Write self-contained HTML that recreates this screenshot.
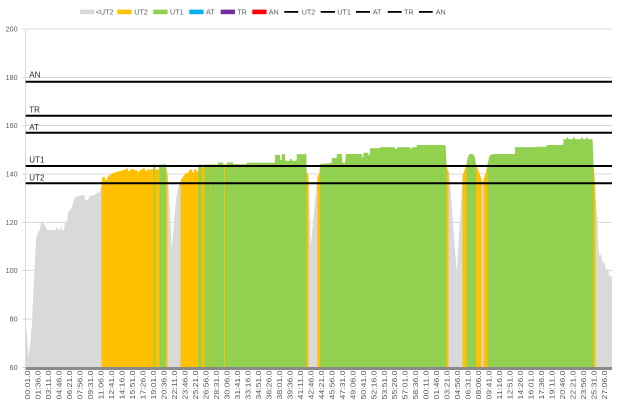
<!DOCTYPE html>
<html>
<head>
<meta charset="utf-8">
<style>
html,body{margin:0;padding:0;background:#fff;}
svg{display:block;font-family:"Liberation Sans",Arial,sans-serif;}
</style>
</head>
<body>
<svg width="620" height="403" viewBox="0 0 620 403" xmlns="http://www.w3.org/2000/svg">
<rect x="0" y="0" width="620" height="403" fill="#fff"/>
<defs>
<clipPath id="area">
<path d="M25.7,367.3 L25.7,326 27,335 28.5,357 30,345 31.7,327 33,300 34.3,273 35.5,250 36.3,237 38,232 40,230 41,222 42.3,220 43.5,224 45,225 47,230 55,230 57,227 58.5,230 60,230 61,225 62,230 64,230 65,223 67,222 68,213 70,210 72,207 74,200 75.5,197 78,196 84,195 85.5,200 88,200 89.5,196 95,195 97,193 100,192 101.4,186 102,178 103.5,177 105,177 105.5,180 107,180 107.5,177 110,175 113,173 117,172 120,171 125,170 126,168.5 127.5,168.5 128,171 130,171 130.5,169 133,169 134,170 137,170 137.5,172 139,172 139.5,170 142,170 142.5,168.5 145,168.5 145.5,171 147,171 147.5,169.5 153.2,169.5 153.3,164.5 155,164.5 155.1,169.5 159.2,169.5 159.3,164.5 166,164.5 166.2,168 167.7,176 169.5,200 171.7,250 173,235 174.5,215 176,200 178,187 180.7,182 181,180 183,177 186,173 188,173 190,169.5 192.3,169.5 192.5,172.5 194,172.5 194.2,169.5 196.5,169.5 196.7,171.5 198.2,171.5 198.3,164.5 201.7,164.5 201.8,167.3 204.2,167.3 204.3,164.5 218,164.5 218.1,162.5 223,162.5 223.1,164.5 227,164.5 227.1,162.5 233,162.5 233.1,164.3 246.7,164.3 246.8,162.7 275,162.7 275.1,155 280,155 280.1,160 281.7,160 281.8,154.3 285,154.3 285.1,160.7 290,160.7 290.1,159.3 292,159.3 292.1,160.7 296.7,160.7 296.8,154.3 306.3,154.3 306.7,172 308.7,176 310.7,247 317.3,178 318,176 319.5,172 320,164 331.7,163 331.8,158 336.7,158 336.8,154 341.7,154 342.7,163 345,163 346,154 361.7,154 362,157 363.3,157 363.4,152.7 368.3,152.7 368.4,155 370,155 370.1,148.3 380,148.3 380.1,147.3 395,147.3 395.5,149 397,149 397.5,147.3 410,147.3 410.5,149 411.5,149 412,147.3 416.7,147.3 416.8,145 445.5,145 446.5,165 448.3,172 449,170 456.7,271.7 462.7,175 464,172 466.7,163 468,157 469.3,154.3 473.3,154.3 475,158 476,165 479,172 481.7,180 482.5,182 483.3,180 486,172 487.7,164 489,158 490,155 494,154 515,154 515.1,147.3 536.7,147.3 536.8,146.7 546.7,146.7 546.8,145 563.3,145 563.4,139.3 566.5,139.3 567,137.3 568,137.3 568.5,139.3 573,139.3 573.5,137.3 574.5,137.3 575,139.3 581,139.3 581.5,137.3 582.5,137.3 583,139.3 586,139.3 586.5,137.3 587.5,137.3 588,139.3 592.5,139.3 593.5,165 595,183 595.5,196.7 596.7,213 597.5,220 598.3,245 599,253 600,256.7 601,252 602,260 603.3,263.3 604.5,262 605.5,268 606.7,270 608,268 609,275 610,276.7 611,275 612,278.3 612,367.3 Z"/>
</clipPath>
</defs>

<g stroke="#d9d9d9" stroke-width="1" shape-rendering="crispEdges">
<line x1="22" y1="29" x2="612" y2="29"/>
<line x1="22" y1="77.3" x2="612" y2="77.3"/>
<line x1="22" y1="125.6" x2="612" y2="125.6"/>
<line x1="22" y1="174" x2="612" y2="174"/>
<line x1="22" y1="222.3" x2="612" y2="222.3"/>
<line x1="22" y1="270.6" x2="612" y2="270.6"/>
<line x1="22" y1="319" x2="612" y2="319"/>
<line x1="22" y1="367.3" x2="612" y2="367.3"/>
<line x1="25.7" y1="29" x2="25.7" y2="367.3"/>
</g>

<g clip-path="url(#area)" shape-rendering="crispEdges">
<rect x="25" y="120" width="590" height="250" fill="#d9d9d9"/>
<rect x="101.7" y="120" width="51.6" height="250" fill="#ffc000"/>
<rect x="153.3" y="120" width="1.7" height="250" fill="#92d050"/>
<rect x="155" y="120" width="4.3" height="250" fill="#ffc000"/>
<rect x="159.3" y="120" width="6.7" height="250" fill="#92d050"/>
<rect x="166" y="120" width="1.7" height="250" fill="#ffc000"/>
<rect x="180.7" y="120" width="17.6" height="250" fill="#ffc000"/>
<rect x="198.3" y="120" width="3.4" height="250" fill="#92d050"/>
<rect x="201.7" y="120" width="2.6" height="250" fill="#ffc000"/>
<rect x="204.3" y="120" width="102.4" height="250" fill="#92d050"/>
<rect x="306.7" y="120" width="2" height="250" fill="#ffc000"/>
<rect x="317.3" y="120" width="2.7" height="250" fill="#ffc000"/>
<rect x="320" y="120" width="126.5" height="250" fill="#92d050"/>
<rect x="446.5" y="120" width="2" height="250" fill="#ffc000"/>
<rect x="462.7" y="120" width="4" height="250" fill="#ffc000"/>
<rect x="466.7" y="120" width="9.3" height="250" fill="#92d050"/>
<rect x="476" y="120" width="5.7" height="250" fill="#ffc000"/>
<rect x="483.3" y="120" width="4.4" height="250" fill="#ffc000"/>
<rect x="487.7" y="120" width="105.8" height="250" fill="#92d050"/>
<rect x="593.5" y="120" width="1.8" height="250" fill="#ffc000"/>
<rect x="209.8" y="120" width="0.8" height="250" fill="#ffc000"/>
<rect x="224" y="120" width="0.8" height="250" fill="#ffc000"/>
</g>

<rect x="25.5" y="367" width="586.5" height="3" fill="#8a8a8a"/>

<g stroke="#000" stroke-width="2">
<line x1="25.7" y1="81.7" x2="612" y2="81.7"/>
<line x1="25.7" y1="115.7" x2="612" y2="115.7"/>
<line x1="25.7" y1="132.7" x2="612" y2="132.7"/>
<line x1="25.7" y1="166" x2="612" y2="166"/>
<line x1="25.7" y1="183.3" x2="612" y2="183.3"/>
</g>
<g font-size="8" fill="#262626">
<text x="29.3" y="77.3">AN</text>
<text x="29.3" y="112.7">TR</text>
<text x="29.3" y="130">AT</text>
<text x="29.3" y="162.7">UT1</text>
<text x="29.3" y="180.5">UT2</text>
</g>

<g font-size="7.2" fill="#595959" text-anchor="end">
<text x="17.6" y="31.6">200</text>
<text x="17.6" y="79.9">180</text>
<text x="17.6" y="128.2">160</text>
<text x="17.6" y="176.6">140</text>
<text x="17.6" y="224.9">120</text>
<text x="17.6" y="273.2">100</text>
<text x="17.6" y="321.6">80</text>
<text x="17.6" y="369.9">60</text>
</g>

<g>
<rect x="80" y="9.6" width="14.3" height="4.6" fill="#d9d9d9"/>
<rect x="117.3" y="9.6" width="14.3" height="4.6" fill="#ffc000"/>
<rect x="153.3" y="9.6" width="14.3" height="4.6" fill="#92d050"/>
<rect x="189.3" y="9.6" width="14.3" height="4.6" fill="#00b0f0"/>
<rect x="220.7" y="9.6" width="14.3" height="4.6" fill="#7030a0"/>
<rect x="252.3" y="9.6" width="14.3" height="4.6" fill="#ff0000"/>
<g stroke="#000" stroke-width="1.8">
<line x1="284.3" y1="11.9" x2="298.3" y2="11.9"/>
<line x1="320.7" y1="11.9" x2="335" y2="11.9"/>
<line x1="356" y1="11.9" x2="370" y2="11.9"/>
<line x1="387.7" y1="11.9" x2="401.7" y2="11.9"/>
<line x1="419" y1="11.9" x2="432.7" y2="11.9"/>
</g>
<g font-size="7.2" fill="#595959">
<text x="95.7" y="14.4">&lt;UT2</text>
<text x="134.3" y="14.4">UT2</text>
<text x="170" y="14.4">UT1</text>
<text x="206" y="14.4">AT</text>
<text x="237.3" y="14.4">TR</text>
<text x="268.7" y="14.4">AN</text>
<text x="301.7" y="14.4">UT2</text>
<text x="337.3" y="14.4">UT1</text>
<text x="372.7" y="14.4">AT</text>
<text x="404" y="14.4">TR</text>
<text x="435.7" y="14.4">AN</text>
</g>
</g>

<g font-size="7.3" fill="#595959" text-anchor="end" transform="translate(2.6,0)">
<text transform="translate(27.5,370.5) rotate(-90)" textLength="29" lengthAdjust="spacingAndGlyphs">00:01.0</text>
<text transform="translate(38.0,370.5) rotate(-90)" textLength="29" lengthAdjust="spacingAndGlyphs">01:36.0</text>
<text transform="translate(48.5,370.5) rotate(-90)" textLength="29" lengthAdjust="spacingAndGlyphs">03:11.0</text>
<text transform="translate(59.0,370.5) rotate(-90)" textLength="29" lengthAdjust="spacingAndGlyphs">04:46.0</text>
<text transform="translate(69.5,370.5) rotate(-90)" textLength="29" lengthAdjust="spacingAndGlyphs">06:21.0</text>
<text transform="translate(80.0,370.5) rotate(-90)" textLength="29" lengthAdjust="spacingAndGlyphs">07:56.0</text>
<text transform="translate(90.4,370.5) rotate(-90)" textLength="29" lengthAdjust="spacingAndGlyphs">09:31.0</text>
<text transform="translate(100.9,370.5) rotate(-90)" textLength="29" lengthAdjust="spacingAndGlyphs">11:06.0</text>
<text transform="translate(111.4,370.5) rotate(-90)" textLength="29" lengthAdjust="spacingAndGlyphs">12:41.0</text>
<text transform="translate(121.9,370.5) rotate(-90)" textLength="29" lengthAdjust="spacingAndGlyphs">14:16.0</text>
<text transform="translate(132.4,370.5) rotate(-90)" textLength="29" lengthAdjust="spacingAndGlyphs">15:51.0</text>
<text transform="translate(142.9,370.5) rotate(-90)" textLength="29" lengthAdjust="spacingAndGlyphs">17:26.0</text>
<text transform="translate(153.4,370.5) rotate(-90)" textLength="29" lengthAdjust="spacingAndGlyphs">19:01.0</text>
<text transform="translate(163.9,370.5) rotate(-90)" textLength="29" lengthAdjust="spacingAndGlyphs">20:36.0</text>
<text transform="translate(174.4,370.5) rotate(-90)" textLength="29" lengthAdjust="spacingAndGlyphs">22:11.0</text>
<text transform="translate(184.9,370.5) rotate(-90)" textLength="29" lengthAdjust="spacingAndGlyphs">23:46.0</text>
<text transform="translate(195.3,370.5) rotate(-90)" textLength="29" lengthAdjust="spacingAndGlyphs">25:21.0</text>
<text transform="translate(205.8,370.5) rotate(-90)" textLength="29" lengthAdjust="spacingAndGlyphs">26:56.0</text>
<text transform="translate(216.3,370.5) rotate(-90)" textLength="29" lengthAdjust="spacingAndGlyphs">28:31.0</text>
<text transform="translate(226.8,370.5) rotate(-90)" textLength="29" lengthAdjust="spacingAndGlyphs">30:06.0</text>
<text transform="translate(237.3,370.5) rotate(-90)" textLength="29" lengthAdjust="spacingAndGlyphs">31:41.0</text>
<text transform="translate(247.8,370.5) rotate(-90)" textLength="29" lengthAdjust="spacingAndGlyphs">33:16.0</text>
<text transform="translate(258.3,370.5) rotate(-90)" textLength="29" lengthAdjust="spacingAndGlyphs">34:51.0</text>
<text transform="translate(268.8,370.5) rotate(-90)" textLength="29" lengthAdjust="spacingAndGlyphs">36:26.0</text>
<text transform="translate(279.3,370.5) rotate(-90)" textLength="29" lengthAdjust="spacingAndGlyphs">38:01.0</text>
<text transform="translate(289.8,370.5) rotate(-90)" textLength="29" lengthAdjust="spacingAndGlyphs">39:36.0</text>
<text transform="translate(300.2,370.5) rotate(-90)" textLength="29" lengthAdjust="spacingAndGlyphs">41:11.0</text>
<text transform="translate(310.7,370.5) rotate(-90)" textLength="29" lengthAdjust="spacingAndGlyphs">42:46.0</text>
<text transform="translate(321.2,370.5) rotate(-90)" textLength="29" lengthAdjust="spacingAndGlyphs">44:21.0</text>
<text transform="translate(331.7,370.5) rotate(-90)" textLength="29" lengthAdjust="spacingAndGlyphs">45:56.0</text>
<text transform="translate(342.2,370.5) rotate(-90)" textLength="29" lengthAdjust="spacingAndGlyphs">47:31.0</text>
<text transform="translate(352.7,370.5) rotate(-90)" textLength="29" lengthAdjust="spacingAndGlyphs">49:06.0</text>
<text transform="translate(363.2,370.5) rotate(-90)" textLength="29" lengthAdjust="spacingAndGlyphs">50:41.0</text>
<text transform="translate(373.7,370.5) rotate(-90)" textLength="29" lengthAdjust="spacingAndGlyphs">52:16.0</text>
<text transform="translate(384.2,370.5) rotate(-90)" textLength="29" lengthAdjust="spacingAndGlyphs">53:51.0</text>
<text transform="translate(394.6,370.5) rotate(-90)" textLength="29" lengthAdjust="spacingAndGlyphs">55:26.0</text>
<text transform="translate(405.1,370.5) rotate(-90)" textLength="29" lengthAdjust="spacingAndGlyphs">57:01.0</text>
<text transform="translate(415.6,370.5) rotate(-90)" textLength="29" lengthAdjust="spacingAndGlyphs">58:36.0</text>
<text transform="translate(426.1,370.5) rotate(-90)" textLength="29" lengthAdjust="spacingAndGlyphs">00:11.0</text>
<text transform="translate(436.6,370.5) rotate(-90)" textLength="29" lengthAdjust="spacingAndGlyphs">01:46.0</text>
<text transform="translate(447.1,370.5) rotate(-90)" textLength="29" lengthAdjust="spacingAndGlyphs">03:21.0</text>
<text transform="translate(457.6,370.5) rotate(-90)" textLength="29" lengthAdjust="spacingAndGlyphs">04:56.0</text>
<text transform="translate(468.1,370.5) rotate(-90)" textLength="29" lengthAdjust="spacingAndGlyphs">06:31.0</text>
<text transform="translate(478.6,370.5) rotate(-90)" textLength="29" lengthAdjust="spacingAndGlyphs">08:06.0</text>
<text transform="translate(489.1,370.5) rotate(-90)" textLength="29" lengthAdjust="spacingAndGlyphs">09:41.0</text>
<text transform="translate(499.6,370.5) rotate(-90)" textLength="29" lengthAdjust="spacingAndGlyphs">11:16.0</text>
<text transform="translate(510.0,370.5) rotate(-90)" textLength="29" lengthAdjust="spacingAndGlyphs">12:51.0</text>
<text transform="translate(520.5,370.5) rotate(-90)" textLength="29" lengthAdjust="spacingAndGlyphs">14:26.0</text>
<text transform="translate(531.0,370.5) rotate(-90)" textLength="29" lengthAdjust="spacingAndGlyphs">16:01.0</text>
<text transform="translate(541.5,370.5) rotate(-90)" textLength="29" lengthAdjust="spacingAndGlyphs">17:36.0</text>
<text transform="translate(552.0,370.5) rotate(-90)" textLength="29" lengthAdjust="spacingAndGlyphs">19:11.0</text>
<text transform="translate(562.5,370.5) rotate(-90)" textLength="29" lengthAdjust="spacingAndGlyphs">20:46.0</text>
<text transform="translate(573.0,370.5) rotate(-90)" textLength="29" lengthAdjust="spacingAndGlyphs">22:21.0</text>
<text transform="translate(583.5,370.5) rotate(-90)" textLength="29" lengthAdjust="spacingAndGlyphs">23:56.0</text>
<text transform="translate(594.0,370.5) rotate(-90)" textLength="29" lengthAdjust="spacingAndGlyphs">25:31.0</text>
<text transform="translate(604.5,370.5) rotate(-90)" textLength="29" lengthAdjust="spacingAndGlyphs">27:06.0</text>
</g>
</svg>
</body>
</html>
